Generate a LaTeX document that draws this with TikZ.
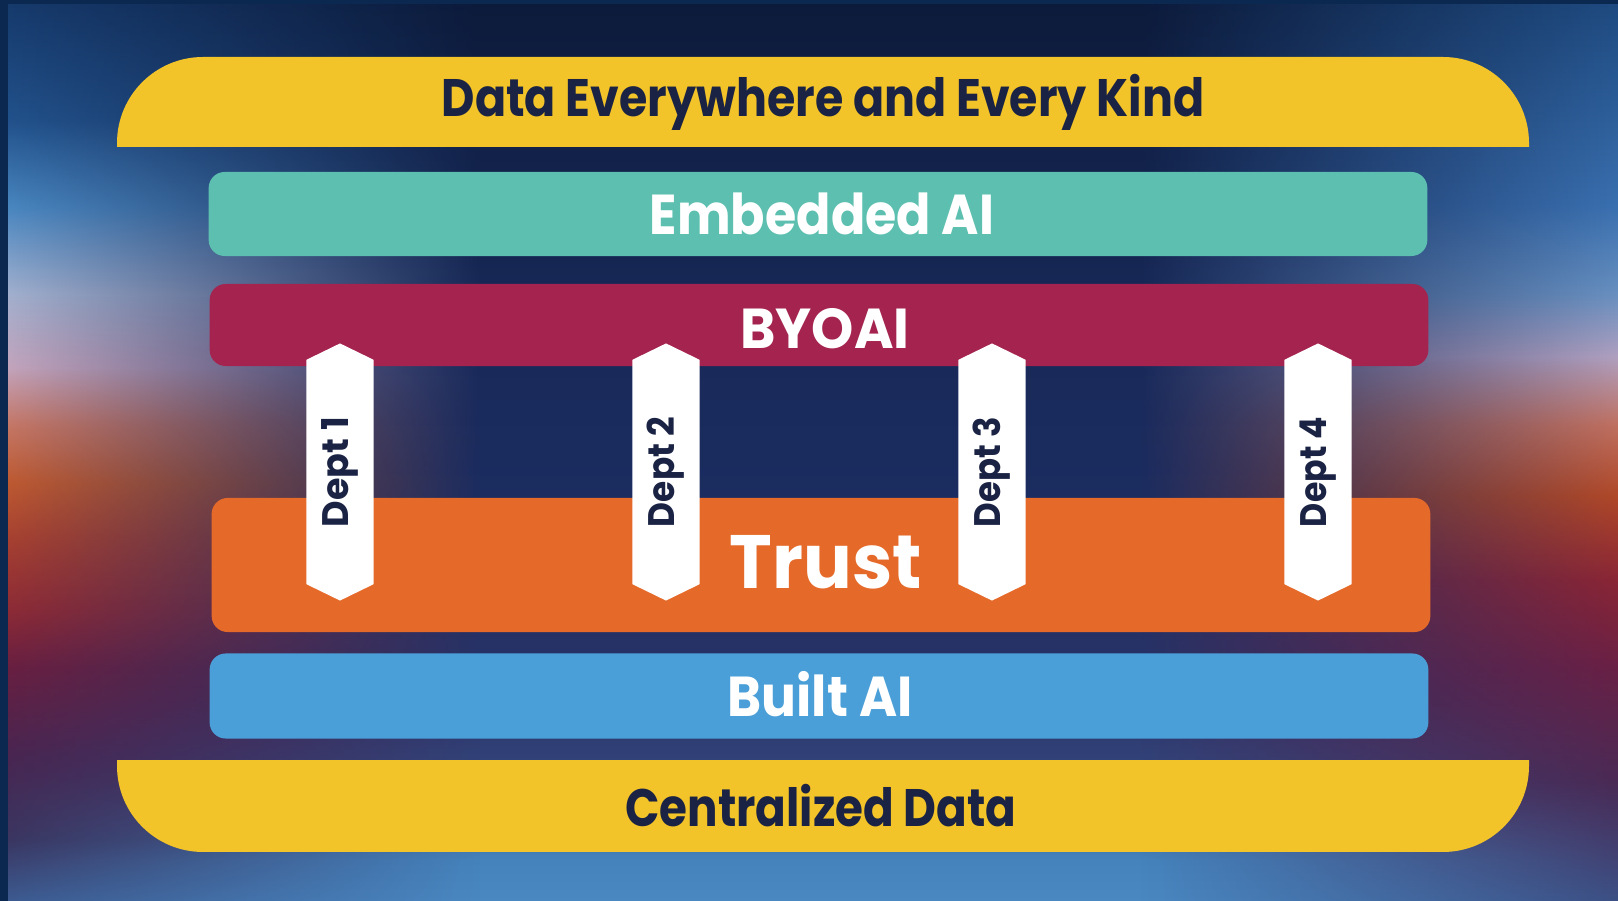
\documentclass[tikz,border=0pt]{standalone}
\usepackage{fontspec}
\setmainfont{Poppins}
\usepackage{graphicx}
\usetikzlibrary{shapes.symbols,fadings}

\definecolor{inkblue}{HTML}{1B2344}
\definecolor{sunyellow}{HTML}{F3C42A}
\definecolor{tealbar}{HTML}{5CBFAF}
\definecolor{wine}{HTML}{A4234F}
\definecolor{flame}{HTML}{E56A2A}
\definecolor{skybar}{HTML}{4A9FD8}
\definecolor{edgenavy}{HTML}{0A2850}

% background colours
\definecolor{mA}{HTML}{0C1A3A}\definecolor{mB}{HTML}{172857}\definecolor{mC}{HTML}{1B2C60}
\definecolor{mD}{HTML}{2A3468}\definecolor{mE}{HTML}{34477E}\definecolor{mF}{HTML}{4583BD}
\definecolor{mG}{HTML}{4A88C2}
\definecolor{lA}{HTML}{163A6C}\definecolor{lB}{HTML}{22528C}\definecolor{lC}{HTML}{4A88C2}
\definecolor{lD}{HTML}{A4B2D0}\definecolor{lE}{HTML}{C6A6BE}\definecolor{lF}{HTML}{C87866}
\definecolor{lG}{HTML}{C05A30}\definecolor{lH}{HTML}{A84030}\definecolor{lI}{HTML}{8E2A35}
\definecolor{lJ}{HTML}{6A1F40}\definecolor{lK}{HTML}{4A2550}\definecolor{lL}{HTML}{3A3560}
\definecolor{lM}{HTML}{3C5A90}
\definecolor{rA}{HTML}{1E4A80}\definecolor{rB}{HTML}{3A70B0}\definecolor{rC}{HTML}{6890C0}
\definecolor{rD}{HTML}{B0A0C0}\definecolor{rE}{HTML}{C07060}\definecolor{rF}{HTML}{B04828}
\definecolor{rG}{HTML}{8A2535}\definecolor{rH}{HTML}{6A2045}\definecolor{rI}{HTML}{4A2A55}
\definecolor{rJ}{HTML}{3C5085}

% the path covers 25bp..75bp of each shading
\pgfdeclareverticalshading{midback}{100bp}{color(0bp)=(mG); color(25bp)=(mG); color(27.25bp)=(mF); color(31.7bp)=(mE); color(36.15bp)=(mD); color(47.25bp)=(mC); color(58.35bp)=(mB); color(75bp)=(mA); color(100bp)=(mA)}
\pgfdeclareverticalshading{leftglow}{100bp}{color(0bp)=(lM); color(25bp)=(lM); color(28.4bp)=(lL); color(33.2bp)=(lK); color(38bp)=(lJ); color(41.1bp)=(lI); color(45bp)=(lH); color(48.2bp)=(lG); color(51.4bp)=(lF); color(54.6bp)=(lE); color(58.7bp)=(lD); color(63.5bp)=(lC); color(68.3bp)=(lB); color(75bp)=(lA); color(100bp)=(lA)}
\pgfdeclareverticalshading{rightglow}{100bp}{color(0bp)=(rJ); color(25bp)=(rJ); color(31.6bp)=(rI); color(38bp)=(rH); color(42.8bp)=(rG); color(47.5bp)=(rF); color(51.4bp)=(rE); color(55.2bp)=(rD); color(58.7bp)=(rC); color(63.5bp)=(rB); color(75bp)=(rA); color(100bp)=(rA)}

\newcommand{\fitto}[2]{\resizebox{#1}{\height}{#2}}

\begin{document}
\begin{tikzpicture}[x=0.01cm, y=-0.01cm,
    bar/.style={rounded corners=0.16cm, inner sep=0pt, minimum width=12.18cm},
    title/.style={inner sep=0pt, font=\bfseries\fontsize{15}{15}\selectfont},
    dept/.style={signal, signal to=west and east, signal pointer angle=128, rotate=90,
        fill=white, inner sep=0pt, minimum width=2.57cm, minimum height=0.67cm,
        text=inkblue, font=\bfseries\fontsize{10.5}{10.5}\selectfont}]
    \useasboundingbox (0,0) rectangle (1618,901);
    % background
    \begin{scope}
        \clip (0,0) rectangle (1618,901);
        \shade[shading=midback] (0,0) rectangle (1618,901);
        \shade[shading=leftglow, path fading=east] (0,0) rectangle (480,901);
        \shade[shading=rightglow, path fading=west] (1140,0) rectangle (1618,901);
        \fill[edgenavy] (0,0) rectangle (8,901);
        \fill[edgenavy] (0,0) rectangle (1618,4);
    \end{scope}

    % outer data layers
    \begin{scope}
        \clip (100,57) rectangle (1540,147);
        \fill[sunyellow, rounded corners=0.86cm] (117,57) rectangle (1529,240);
    \end{scope}
    \begin{scope}
        \clip (100,761) rectangle (1540,852);
        \fill[sunyellow, rounded corners=0.86cm] (117,670) rectangle (1529,852);
    \end{scope}
    \node[title, text=inkblue] (every) at (823,102) {\fitto{7.62cm}{Data Everywhere and Every Kind}};
    \node[title, text=inkblue] (central) at (821,806) {\fitto{3.91cm}{Centralized Data}};

    % AI layers
    \node[bar, fill=tealbar, minimum height=0.84cm] (embedded) at (818,214) {};
    \node[bar, fill=wine, minimum height=0.82cm] (byoai) at (819,325) {};
    \node[bar, fill=flame, minimum height=1.34cm] (trust) at (821,565) {};
    \node[bar, fill=skybar, minimum height=0.85cm] (built) at (819,696) {};

    \node[title, text=white, font=\bfseries\fontsize{16}{16}\selectfont] (embeddedtxt) at (822,214) {\fitto{3.44cm}{Embedded AI}};
    \node[title, text=white, font=\bfseries\fontsize{16}{16}\selectfont] (byoaitxt) at (825,329) {\fitto{1.69cm}{BYOAI}};
    \node[title, text=white, font=\bfseries\fontsize{21.5}{21.5}\selectfont] (trusttxt) at (826,562) {\fitto{1.92cm}{Trust}};
    \node[title, text=white, font=\bfseries\fontsize{16}{16}\selectfont] (builttxt) at (820,694) {\fitto{1.85cm}{Built AI}};

    % departments
    \foreach \i/\x in {1/340,2/666,3/992,4/1318}
        \node[dept] (dept\i) at (\x,472) {\fitto{1.10cm}{Dept \i}};
\end{tikzpicture}
\end{document}
